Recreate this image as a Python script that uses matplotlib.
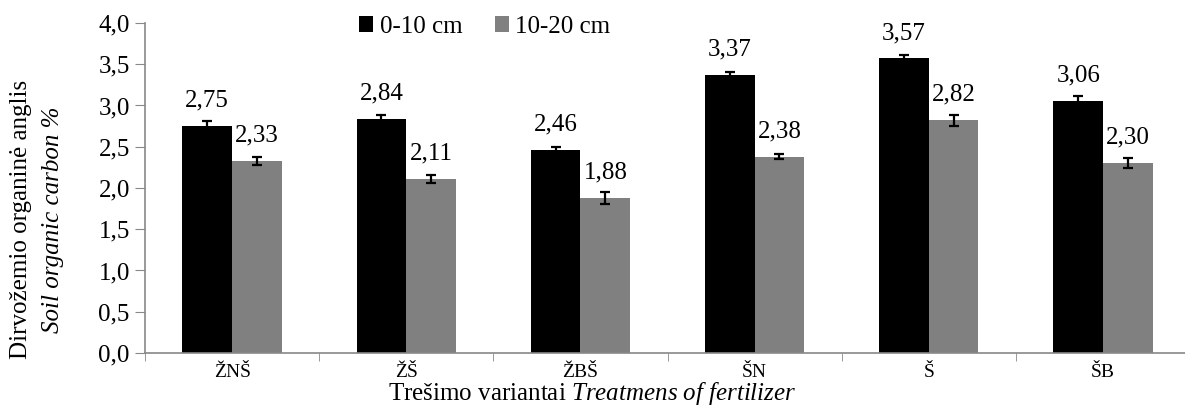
import numpy as np
import matplotlib
matplotlib.use("Agg")
import matplotlib.pyplot as plt

plt.rcParams['font.family'] = ['Liberation Serif', 'DejaVu Serif']
plt.rcParams['mathtext.fontset'] = 'custom'
plt.rcParams['mathtext.rm'] = 'Liberation Serif'
plt.rcParams['mathtext.it'] = 'Liberation Serif:italic'

# data
kategorijos = ['ŽNŠ', 'ŽŠ', 'ŽBŠ', 'ŠN', 'Š', 'ŠB']
sluoksnis_0_10 = [2.75, 2.84, 2.46, 3.37, 3.57, 3.06]
sluoksnis_10_20 = [2.33, 2.11, 1.88, 2.38, 2.82, 2.30]
klaida_0_10 = [0.06, 0.05, 0.04, 0.03, 0.04, 0.06]
klaida_10_20 = [0.05, 0.05, 0.07, 0.03, 0.07, 0.06]

fig = plt.figure(figsize=(11.85, 4.07), dpi=100)
ax = fig.add_axes([0.1224, 0.1327, 0.8819, 0.8108])

x = np.arange(len(kategorijos))
w = 0.285
err_kw = dict(elinewidth=1.6, capthick=1.6, ecolor='black')

b1 = ax.bar(x - w / 2, sluoksnis_0_10, w, color='black', label='0-10 cm',
            yerr=klaida_0_10, capsize=3.5, error_kw=err_kw)
b2 = ax.bar(x + w / 2, sluoksnis_10_20, w, color='#808080', label='10-20 cm',
            yerr=klaida_10_20, capsize=3.5, error_kw=err_kw)

for xs, vals in [(x - w / 2, sluoksnis_0_10), (x + w / 2, sluoksnis_10_20)]:
    for xi, v in zip(xs, vals):
        ax.annotate(f"{v:.2f}".replace('.', ','), (xi, v), xytext=(0, 14),
                    textcoords='offset points', ha='center', va='baseline',
                    fontsize=18)

ax.set_xlim(-0.5, len(kategorijos) - 0.5)
ax.set_ylim(0, 4.0)
ax.set_yticks(np.arange(0, 4.01, 0.5))
ax.set_yticklabels([f"{t:.1f}".replace('.', ',') for t in np.arange(0, 4.01, 0.5)],
                   fontsize=18)
ax.set_xticks(x)
ax.set_xticklabels(kategorijos, fontsize=14)
ax.set_xticks(np.arange(-0.5, len(kategorijos), 1), minor=True)
ax.tick_params(axis='x', which='major', length=0, pad=8)
ax.tick_params(axis='x', which='minor', length=6, color='#888888', direction='out')
ax.tick_params(axis='y', length=7, color='#888888', direction='out', pad=4)

for s in ['top', 'right']:
    ax.spines[s].set_visible(False)
for s in ['left', 'bottom']:
    ax.spines[s].set_color('#888888')
    ax.spines[s].set_linewidth(1.2)

fig.text(0.018, 0.46, 'Dirvožemio organinė anglis', rotation=90,
         ha='center', va='center', fontsize=18)
fig.text(0.045, 0.46, 'Soil organic carbon %', rotation=90, style='italic',
         ha='center', va='center', fontsize=18)
fig.text(0.5, 0.016, r'Trešimo variantai $\mathit{Treatmens\ of\ fertilizer}$',
         ha='center', va='baseline', fontsize=18)

ax.legend(loc='center', bbox_to_anchor=(0.409, 0.934), bbox_transform=fig.transFigure,
          ncol=2, frameon=False, fontsize=18, handlelength=0.56, handleheight=0.56,
          handletextpad=0.25, columnspacing=1.3, borderpad=0)

fig.savefig('out.png', dpi=100)
